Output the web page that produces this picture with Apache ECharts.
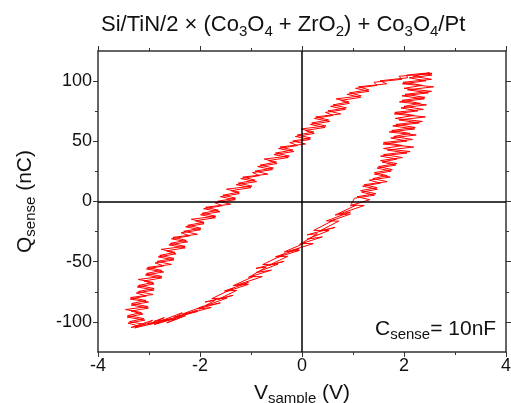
<!DOCTYPE html>
<html>
<head>
<meta charset="utf-8">
<script src="https://cdn.jsdelivr.net/npm/echarts@6/dist/echarts.min.js"></script>
<style>html,body{margin:0;padding:0;background:#fff}#c{width:511px;height:403px}</style>
</head>
<body>
<div id="c"></div>
<script>
// Cycle A, rising branch (bottom-left tip -> top-right tip)
var vRiseA = [
 -3.05,-3.28,-2.78,-3.02,-2.7,-2.9,-2.35,-2.65,-2.28,-2.52,-2.05,-2.28,-1.78,-2.02,-1.7,-1.9,-1.35,-1.65,-1.28,-1.52,
 -1.05,-1.28,-0.78,-1.02,-0.7,-0.9,-0.35,-0.65,-0.28,-0.52,-0.05,-0.28,0.22,-0.02,0.3,0.1,0.65,0.35,0.72,0.48,
 0.95,0.72,1.22,0.98,
 1.33,1.08,1.45,1.15,1.47,1.22,1.67,1.39,1.67,1.42,1.77,1.50,1.86,1.54,
 1.97,1.60,2.12,1.60,1.97,1.60,2.17,1.80,2.12,1.76,2.22,1.84,2.36,1.83,2.20,1.82,2.38,2.00,2.32,1.96,
 2.41,2.02,2.54,2.00,2.36,1.98,2.54,2.18,2.5,2.3,2.55
];
var qRiseA = [
 -101,-105,-100,-102,-96.5,-99.6,-95.7,-100.8,-94.8,-96.1,-90.4,-93.7,-88,-89.3,-82,-83.5,-77.9,-81.4,-73.8,-74.3,
 -67.3,-69.4,-62.4,-62.4,-54.5,-55.5,-49.7,-53.1,-45.5,-45.9,-39.2,-41.6,-35,-34.9,-26.8,-27.7,-21.5,-24.4,-16.3,-16.1,
 -8.8,-10.5,-3.3,-3,
 1.5,4,6.5,9,11.5,14,16.5,19,21.5,24,26.5,29,31.5,34,
 36.5,39,41.5,44,46.5,49,51.5,54,56.5,59,61.5,64,66.5,69,71.5,74,76.5,79,81.5,84,
 86.5,89,91.5,94,96.5,99,101.5,104,107,105.5,106.5
];
// Cycle A, falling branch (top-right tip -> bottom-left tip)
var vFallA = [
 2.49,1.90,1.96,1.41,1.47,1.05,1.31,0.88,1.15,0.76,0.93,0.56,0.85,0.46,0.61,0.24,0.55,0.16,0.45,0.06,
 0.24,-0.13,0.16,-0.24,-0.09,-0.46,-0.16,-0.55,-0.27,-0.66,-0.49,-0.87,-0.58,-0.97,-0.83,-1.2,-0.89,-1.29,-1.0,-1.39,
 -1.23,-1.6,-1.31,-1.71,-1.56,-1.93,-1.61,-1.99,-1.7,-2.09,-1.92,-2.28,-1.99,-2.37,-2.2,-2.56,-2.24,-2.61,-2.29,-2.66,
 -2.47,-2.82,-2.51,-2.88,-2.71,-3.05,-2.71,-3.07,-2.75,-3.1,-2.9,-3.23,-2.9,-3.25,-3.05,-3.37,-3.01,-3.35,-3.01,-3.35,
 -3.12,-3.43,-3.08,-3.41,-3.2
];
var qFallA = [
 106,104,101.5,99,96.5,94,91.5,89,86.5,84,81.5,79,76.5,74,71.5,69,66.5,64,61.5,59,
 56.5,54,51.5,49,46.5,44,41.5,39,36.5,34,31.5,29,26.5,24,21.5,19,16.5,14,11.5,9,
 6.5,4,1.5,-1,-3.5,-6,-8.5,-11,-13.5,-16,-18.5,-21,-23.5,-26,-28.5,-31,-33.5,-36,-38.5,-41,
 -43.5,-46,-48.5,-51,-53.5,-56,-58.5,-61,-63.5,-66,-68.5,-71,-73.5,-76,-78.5,-81,-83.5,-86,-88.5,-91,
 -93.5,-96,-98.5,-101,-103.5
];
// Cycle B, rising branch
var vRiseB = [
 -3.35,-2.93,-3.05,-2.6,-2.9,-2.47,-2.77,-2.35,-2.47,-2.05,-2.35,-1.93,-2.05,-1.6,-1.9,-1.47,-1.77,-1.35,-1.47,-1.05,
 -1.35,-0.93,-1.05,-0.6,-0.9,-0.47,-0.77,-0.35,-0.47,-0.05,-0.35,0.07,-0.05,0.4,0.1,0.53,0.23,0.65,0.53,0.95,
 0.65,1.07,0.95,
 1.03,1.42,1.17,1.48,1.19,1.54,1.32,1.73,1.42,1.75,1.47,1.84,1.57,1.86,
 1.54,2.06,1.67,2.19,1.59,2.06,1.74,2.24,1.71,2.21,1.78,2.30,1.90,2.42,1.81,2.27,1.94,2.44,1.91,2.40,
 1.96,2.48,2.07,2.58,1.97,2.43,2.10,2.55,2.4
];
var qRiseB = [
 -104.6,-98.7,-101.8,-97.9,-102.1,-97.2,-99.3,-92.4,-96,-91.3,-93.6,-86.9,-89.2,-84.2,-86.7,-80.2,-80.7,-72.1,-74.6,-68.8,
 -69.9,-61.9,-62.9,-57,-59,-52,-52.4,-43.8,-46.2,-40.6,-41.9,-34.3,-35.5,-29.4,-31.3,-24.1,-24,-14.8,-16.7,-10.4,
 -11.2,-2.9,-3.6,
 2.75,5.25,7.75,10.25,12.75,15.25,17.75,20.25,22.75,25.25,27.75,30.25,32.75,35.25,
 37.75,40.25,42.75,45.25,47.75,50.25,52.75,55.25,57.75,60.25,62.75,65.25,67.75,70.25,72.75,75.25,77.75,80.25,82.75,85.25,
 87.75,90.25,92.75,95.25,97.75,100.25,102.75,105,106.5
];
// Cycle B, falling branch
var vFallB = [
 2.05,2.07,1.53,1.66,1.11,1.31,0.93,1.16,0.67,0.92,0.61,0.87,0.51,0.76,0.27,0.52,0.19,0.47,-0.02,0.23,
 -0.09,0.17,-0.18,0.07,-0.43,-0.18,-0.52,-0.25,-0.74,-0.50,-0.82,-0.56,-0.92,-0.67,-1.16,-0.92,-1.25,-0.98,-1.48,-1.23,
 -1.55,-1.30,-1.65,-1.40,-1.89,-1.64,-1.96,-1.69,-2.17,-1.92,-2.24,-1.98,-2.32,-2.05,-2.53,-2.27,-2.58,-2.29,-2.76,-2.49,
 -2.79,-2.51,-2.84,-2.56,-3.03,-2.75,-3.05,-2.75,-3.21,-2.92,-3.21,-2.90,-3.21,-2.92,-3.36,-3.06,-3.34,-3.02,-3.46,-3.15,
 -3.42,-3.10,-3.38,-3.07,-3.3
];
var qFallB = [
 105,102.75,100.25,97.75,95.25,92.75,90.25,87.75,85.25,82.75,80.25,77.75,75.25,72.75,70.25,67.75,65.25,62.75,60.25,57.75,
 55.25,52.75,50.25,47.75,45.25,42.75,40.25,37.75,35.25,32.75,30.25,27.75,25.25,22.75,20.25,17.75,15.25,12.75,10.25,7.75,
 5.25,2.75,0.25,-2.25,-4.75,-7.25,-9.75,-12.25,-14.75,-17.25,-19.75,-22.25,-24.75,-27.25,-29.75,-32.25,-34.75,-37.25,-39.75,-42.25,
 -44.75,-47.25,-49.75,-52.25,-54.75,-57.25,-59.75,-62.25,-64.75,-67.25,-69.75,-72.25,-74.75,-77.25,-79.75,-82.25,-84.75,-87.25,-89.75,-92.25,
 -94.75,-97.25,-99.75,-102.25,-104
];
var xMajor = [-4,-2,0,2,4];
var xMinor = [-3,-1,1,3];
var yMajor = [-100,-50,0,50,100];
var yMinor = [-75,-25,25,75];

var FONT = 'Liberation Sans, Arial, sans-serif';
var AX = '#333';
var sub = {fontSize: 15, verticalAlign: 'bottom', lineHeight: 15, fontFamily: FONT, color: '#111'};

var vAll = vRiseA.concat(vFallA, vRiseB, vFallB);
var qAll = qRiseA.concat(qFallA, qRiseB, qFallB);
var points = vAll.map(function (v, i) { return [v, qAll[i]]; });

function xAx(pos, ticks, len, withLabel, showLine) {
  return {
    type: 'value', min: -4, max: 4, position: pos, gridIndex: 0,
    axisLine: {show: showLine, onZero: false, lineStyle: {color: AX, width: 1.5}},
    axisTick: {show: true, inside: false, length: len, customValues: ticks, lineStyle: {color: AX, width: 1}},
    axisLabel: withLabel ? {show: true, customValues: ticks, fontSize: 18, color: '#111', fontFamily: FONT, margin: 5} : {show: false},
    splitLine: {show: false}
  };
}
function yAx(pos, ticks, len, withLabel, showLine) {
  return {
    type: 'value', min: -125, max: 125, position: pos, gridIndex: 0,
    axisLine: {show: showLine, onZero: false, lineStyle: {color: AX, width: 1.5}},
    axisTick: {show: true, inside: false, length: len, customValues: ticks, lineStyle: {color: AX, width: 1}},
    axisLabel: withLabel ? {show: true, customValues: ticks, fontSize: 18, color: '#111', fontFamily: FONT, margin: 6} : {show: false},
    splitLine: {show: false}
  };
}

var xs = [xAx('bottom', xMajor, 5, true, true), xAx('bottom', xMinor, 3, false, false),
          xAx('top', xMajor, 5, false, true), xAx('top', xMinor, 3, false, false)];
xs[0].name = 'V{s|sample} (V)';
xs[0].nameLocation = 'middle';
xs[0].nameGap = 28;
xs[0].nameTextStyle = {fontSize: 21, lineHeight: 26, color: '#111', fontFamily: FONT, rich: {s: sub}};

var ys = [yAx('left', yMajor, 5, true, true), yAx('left', yMinor, 3, false, false),
          yAx('right', yMajor, 5, false, true), yAx('right', yMinor, 3, false, false)];
ys[0].name = 'Q{s|sense} (nC)';
ys[0].nameLocation = 'middle';
ys[0].nameGap = 60;
ys[0].nameTextStyle = {fontSize: 21, lineHeight: 26, color: '#111', fontFamily: FONT, rich: {s: sub}};

var chart = echarts.init(document.getElementById('c'), null, {renderer: 'canvas'});
chart.setOption({
  animation: false,
  backgroundColor: '#fff',
  title: [{
    text: 'Si/TiN/2 × (Co{s|3}O{s|4} + ZrO{s|2}) + Co{s|3}O{s|4}/Pt',
    left: 96, top: 6,
    textStyle: {fontSize: 22, fontWeight: 'normal', lineHeight: 28, color: '#111', fontFamily: FONT, rich: {s: sub}}
  }, {
    text: 'C{s|sense}= 10nF',
    left: 370, top: 311,
    textStyle: {fontSize: 21, fontWeight: 'normal', lineHeight: 26, color: '#111', fontFamily: FONT, rich: {s: sub}}
  }],
  grid: {left: 98, right: 5, top: 51, bottom: 51, containLabel: false, outerBoundsMode: 'none'},
  xAxis: xs,
  yAxis: ys,
  series: [{
    type: 'line', xAxisIndex: 0, yAxisIndex: 0,
    data: points, showSymbol: false, symbol: 'none',
    lineStyle: {color: '#ff0000', width: 1},
    markLine: {
      silent: true, symbol: 'none', label: {show: false},
      lineStyle: {color: '#000', width: 1.5, type: 'solid'},
      data: [{xAxis: 0}, {yAxis: 0}]
    }
  }]
});
</script>
</body>
</html>
